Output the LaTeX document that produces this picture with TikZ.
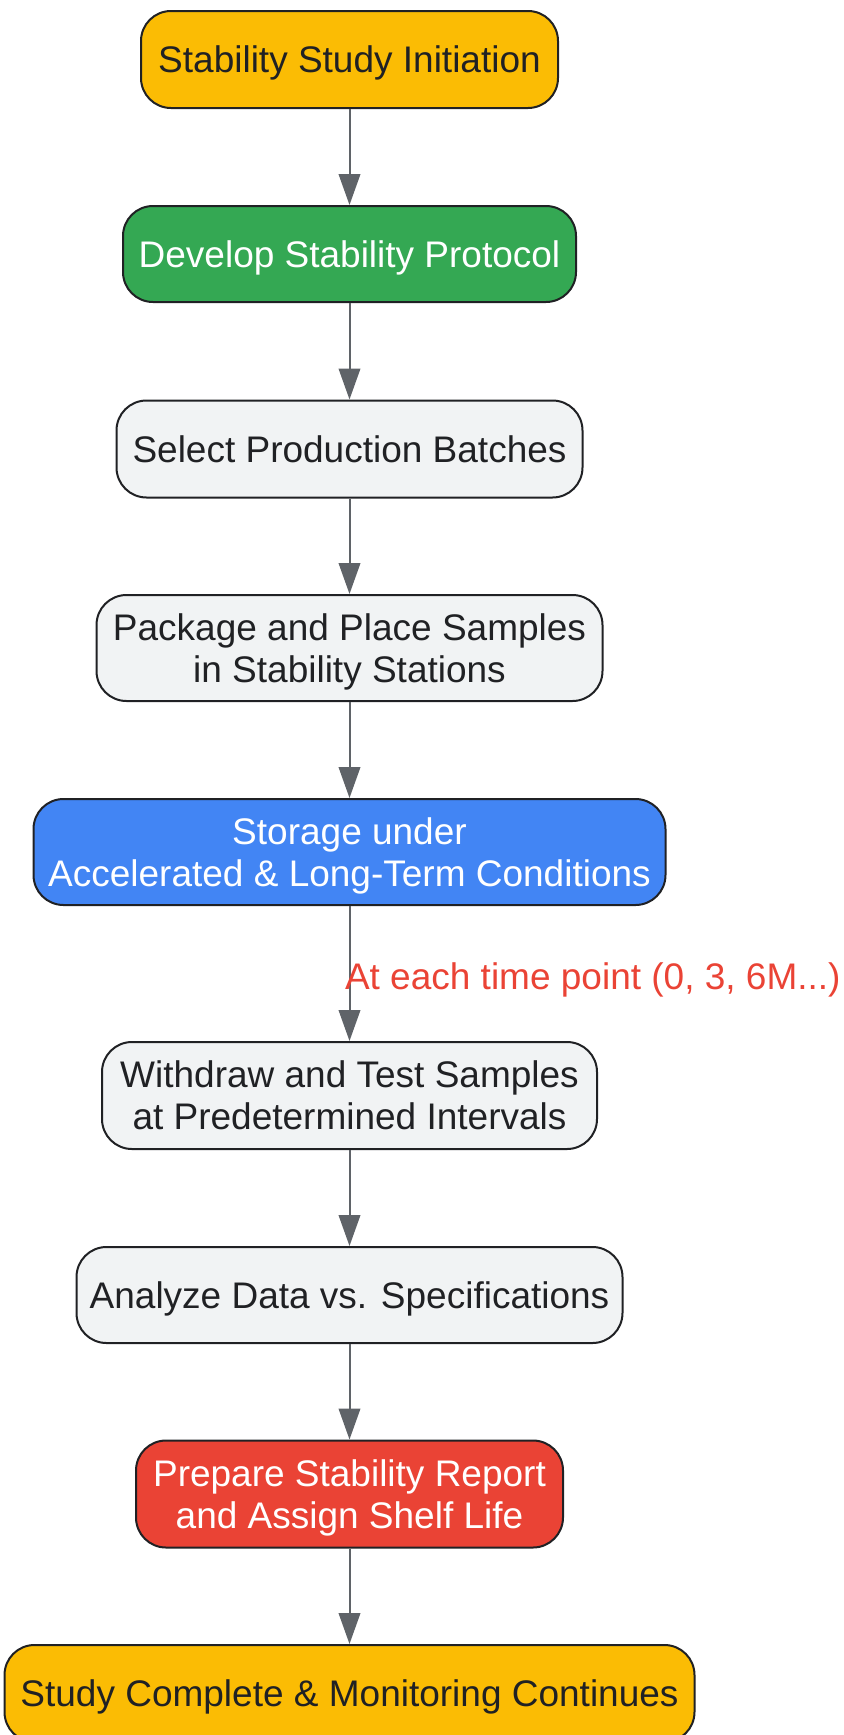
\documentclass[tikz,border=0pt]{standalone}
\usepackage{fontspec}
\setmainfont{Liberation Sans}
\usetikzlibrary{arrows.meta}
\definecolor{gyellow}{HTML}{FBBC04}
\definecolor{ggreen}{HTML}{34A853}
\definecolor{gblue}{HTML}{4285F4}
\definecolor{gred}{HTML}{EA4335}
\definecolor{ggray}{HTML}{F1F3F4}
\definecolor{gtext}{HTML}{202124}
\definecolor{gedge}{HTML}{5F6368}
\tikzset{stage/.style={draw=gtext, line width=1pt, rounded corners=15pt, inner sep=0pt, text depth=0pt, align=center, text=gtext, font=\fontsize{18.5}{21}\selectfont}}
\tikzset{flow/.style={draw=gedge, line width=1pt, -{Triangle[length=15.5pt, width=10.8pt]}}}

\begin{document}
\begin{tikzpicture}[x=0.5pt, y=-0.5pt]
\clip(0,0) rectangle (844,1735);

% steps of the study
\node[stage, fill=gyellow, minimum width=208.5pt, minimum height=48.5pt] (init) at (349.5,59.5) {Stability Study Initiation};
\node[stage, fill=ggreen, text=white, minimum width=226.5pt, minimum height=48pt] (proto) at (349.5,254) {Develop Stability Protocol};
\node[stage, fill=ggray, minimum width=233pt, minimum height=48.5pt] (batch) at (349.5,449) {Select Production Batches};
\node[stage, fill=ggray, minimum width=253pt, minimum height=53pt] (pack) at (349.5,648) {Package and Place Samples\\in Stability Stations};
\node[stage, fill=gblue, text=white, minimum width=316pt, minimum height=53pt] (store) at (349.5,852) {Storage under\\Accelerated \& Long-Term Conditions};
\node[stage, fill=ggray, minimum width=247.5pt, minimum height=53.5pt] (test) at (349.5,1095.5) {Withdraw and Test Samples\\at Predetermined Intervals};
\node[stage, fill=ggray, minimum width=273pt, minimum height=48pt] (anal) at (349.5,1295) {Analyze Data vs. Specifications};
\node[stage, fill=gred, text=white, minimum width=213.5pt, minimum height=53.5pt] (report) at (349.5,1494) {Prepare Stability Report\\and Assign Shelf Life};
\node[stage, fill=gyellow, minimum width=345pt, minimum height=48.5pt] (done) at (349.5,1693.5) {Study Complete \& Monitoring Continues};

% arrows
\draw[flow] (init) -- (proto);
\draw[flow] (proto) -- (batch);
\draw[flow] (batch) -- (pack);
\draw[flow] (pack) -- (store);
\draw[flow] (store) -- node[anchor=west, inner sep=0pt, xshift=-2.75pt, yshift=-3pt, text=gred, font=\fontsize{18.5}{21}\selectfont] (tlabel) {At each time point (0, 3, 6M...)} (test);
\draw[flow] (test) -- (anal);
\draw[flow] (anal) -- (report);
\draw[flow] (report) -- (done);

\end{tikzpicture}
\end{document}
